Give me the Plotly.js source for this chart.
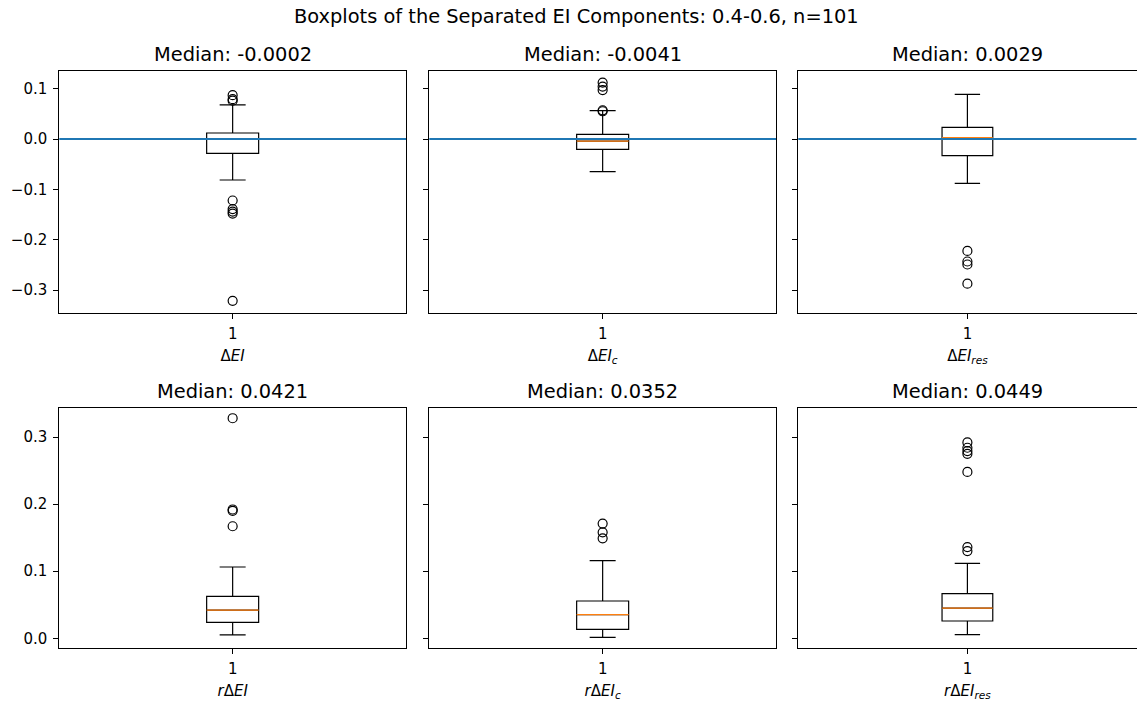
<!DOCTYPE html>
<html>
<head>
<meta charset="utf-8">
<script src="https://cdn.plot.ly/plotly-3.0.1.min.js"></script>
<style>html,body{margin:0;padding:0;background:#fff;}</style>
</head>
<body>
<div id="chart" style="width:1137px;height:702px;"></div>
<script>
// ---- data ----
const panelTitles = ["Median: -0.0002", "Median: -0.0041", "Median: 0.0029", "Median: 0.0421", "Median: 0.0352", "Median: 0.0449"];
const axisLabels = ["Δ<i>EI</i>", "Δ<i>EI</i><sub><i>c</i></sub>", "Δ<i>EI</i><sub><i>res</i></sub>",
                    "<i>r</i>Δ<i>EI</i>", "<i>r</i>Δ<i>EI</i><sub><i>c</i></sub>", "<i>r</i>Δ<i>EI</i><sub><i>res</i></sub>"];
const q1Values = [-0.0284, -0.0205, -0.0331, 0.0238, 0.0134, 0.0258];
const medianValues = [-0.0002, -0.0041, 0.0029, 0.0421, 0.0352, 0.0449];
const q3Values = [0.0119, 0.0093, 0.0232, 0.0626, 0.0556, 0.0665];
const lowerWhisker = [-0.0813, -0.0648, -0.0879, 0.0050, 0.0015, 0.0054];
const upperWhisker = [0.0675, 0.0562, 0.0887, 0.1063, 0.1157, 0.1118];
const outliers1 = [0.087, 0.079, 0.076, -0.122, -0.139, -0.144, -0.148, -0.321];
const outliers2 = [0.112, 0.104, 0.097, 0.057, 0.055];
const outliers3 = [-0.222, -0.243, -0.249, -0.287];
const outliers4 = [0.328, 0.192, 0.190, 0.167];
const outliers5 = [0.171, 0.158, 0.149];
const outliers6 = [0.292, 0.284, 0.279, 0.275, 0.248, 0.136, 0.130];
const topTickVals = [-0.3, -0.2, -0.1, 0.0, 0.1];
const topTickText = ["−0.3", "−0.2", "−0.1", "0.0", "0.1"];
const botTickVals = [0.0, 0.1, 0.2, 0.3];
const botTickText = ["0.0", "0.1", "0.2", "0.3"];
const refLineValue = 0.0;
const mainTitle = "Boxplots of the Separated EI Components: 0.4-0.6, n=101";

// ---- layout geometry ----
const W = 1137, H = 702;
const xDomPx = [[59.3, 406], [429.3, 776], [798.3, 1136.5]];
const yDomPx = [[71, 312.7], [407.7, 647.7]];
const outliers = [outliers1, outliers2, outliers3, outliers4, outliers5, outliers6];
const boxW = 0.15;
const font = "DejaVu Sans, sans-serif";
const tickSize = 15, titleSize = 19.4;

const traces = [];
const layout = {
  width: W, height: H,
  margin: {l: 0, r: 0, t: 0, b: 0},
  paper_bgcolor: "#fff", plot_bgcolor: "#fff",
  showlegend: false,
  font: {family: font, size: tickSize, color: "#000"},
  annotations: [], shapes: []
};
layout.annotations.push({text: mainTitle, xref: "paper", yref: "paper", x: 576 / W, y: 1 - 17 / H,
  showarrow: false, xanchor: "center", yanchor: "middle", font: {family: font, size: titleSize, color: "#000"}});

for (let i = 0; i < 6; i++) {
  const r = Math.floor(i / 3), c = i % 3;
  const n = i + 1;
  const xa = "x" + (n === 1 ? "" : n), ya = "y" + (n === 1 ? "" : n);
  const xd = [xDomPx[c][0] / W, xDomPx[c][1] / W];
  const yd = [1 - yDomPx[r][1] / H, 1 - yDomPx[r][0] / H];
  traces.push({
    type: "box", x: [1], q1: [q1Values[i]], median: [medianValues[i]], q3: [q3Values[i]],
    lowerfence: [lowerWhisker[i]], upperfence: [upperWhisker[i]],
    width: boxW, whiskerwidth: 0.5, boxpoints: false,
    line: {color: "#000", width: 1.2}, fillcolor: "rgba(0,0,0,0)",
    xaxis: xa, yaxis: ya, hoverinfo: "skip"
  });
  traces.push({
    type: "scatter", mode: "lines",
    x: [1 - boxW / 2, 1 + boxW / 2], y: [medianValues[i], medianValues[i]],
    line: {color: "#ff7f0e", width: 1.3}, xaxis: xa, yaxis: ya, hoverinfo: "skip"
  });
  traces.push({
    type: "scatter", mode: "markers",
    x: outliers[i].map(() => 1), y: outliers[i],
    marker: {symbol: "circle-open", size: 9, color: "#000", line: {width: 1.2, color: "#000"}},
    xaxis: xa, yaxis: ya, hoverinfo: "skip"
  });
  const axCommon = {showline: true, mirror: true, linecolor: "#000", linewidth: 1,
    ticks: "outside", ticklen: 5, tickcolor: "#000", showgrid: false, zeroline: false,
    tickfont: {family: font, size: tickSize, color: "#000"}};
  layout["xaxis" + (n === 1 ? "" : n)] = Object.assign({}, axCommon, {
    domain: xd, anchor: ya, range: [0.5, 1.5], tickvals: [1], ticktext: ["1"],
    ticklabelstandoff: 2,
    title: {text: axisLabels[i], font: {family: font, size: tickSize, color: "#000"}, standoff: 8}
  });
  layout["yaxis" + (n === 1 ? "" : n)] = Object.assign({}, axCommon, {
    domain: yd, anchor: xa,
    range: r === 0 ? [-0.3446, 0.1349] : [-0.0140, 0.3437],
    tickvals: r === 0 ? topTickVals : botTickVals,
    ticktext: r === 0 ? topTickText : botTickText,
    ticklabelstandoff: 3,
    showticklabels: c === 0
  });
  layout.annotations.push({text: panelTitles[i], xref: "paper", yref: "paper",
    x: (xd[0] + xd[1]) / 2, y: yd[1], yshift: 3, showarrow: false,
    xanchor: "center", yanchor: "bottom", font: {family: font, size: titleSize, color: "#000"}});
  if (r === 0) {
    layout.shapes.push({type: "line", xref: xa + " domain", yref: ya, x0: 0, x1: 1,
      y0: refLineValue, y1: refLineValue, line: {color: "#1f77b4", width: 2}, layer: "above"});
  }
}

Plotly.newPlot("chart", traces, layout, {staticPlot: true, displayModeBar: false});
</script>
</body>
</html>
